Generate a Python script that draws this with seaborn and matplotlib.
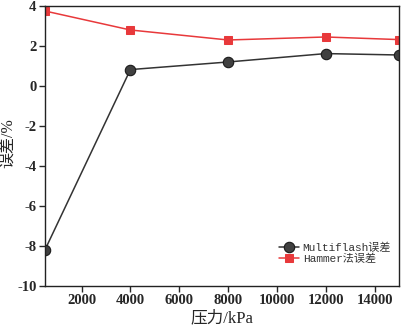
import matplotlib
matplotlib.use("Agg")
import matplotlib.pyplot as plt
import numpy as np
import pandas as pd
import seaborn as sns

pressure = [500, 4000, 8000, 12000, 15000]
multiflash_err = [-8.2, 0.82, 1.2, 1.62, 1.55]
hammer_err = [3.75, 2.8, 2.3, 2.45, 2.32]
x_ticks = [2000, 4000, 6000, 8000, 10000, 12000, 14000]
y_ticks = [-10, -8, -6, -4, -2, 0, 2, 4]

sns.set_style("ticks")
plt.rcParams["font.family"] = ["Liberation Serif", "Noto Sans CJK SC"]
plt.rcParams["axes.unicode_minus"] = False

df = pd.DataFrame({"pressure": pressure, "Multiflash误差": multiflash_err, "Hammer法误差": hammer_err})

fig = plt.figure(figsize=(4.01, 3.27), dpi=100)
ax = fig.add_axes([0.112, 0.1254, 0.883, 0.8563])

sns.lineplot(data=df, x="pressure", y="Multiflash误差", ax=ax, color="#333333", lw=1.1,
             marker="o", markersize=7.5, markerfacecolor="#404040", markeredgecolor="#1a1a1a",
             markeredgewidth=0.8, label="Multiflash误差")
sns.lineplot(data=df, x="pressure", y="Hammer法误差", ax=ax, color="#e8393b", lw=1.1,
             marker="s", markersize=5.5, markerfacecolor="#e8393b", markeredgecolor="#e8393b",
             label="Hammer法误差")

ax.set_xlim(500, 15000)
ax.set_ylim(-10, 4)
ax.set_xticks(x_ticks)
ax.set_yticks(y_ticks)
for lab in ax.get_xticklabels() + ax.get_yticklabels():
    lab.set_fontweight("bold")
    lab.set_fontsize(10.5)
ax.tick_params(direction="out", length=4, width=1, pad=2)
for s in ax.spines.values():
    s.set_linewidth(1.0)
    s.set_color("#222222")

ax.set_xlabel("压力/kPa", fontsize=12, labelpad=2)
ax.set_ylabel("误差/%", fontsize=11.5)
ax.yaxis.set_label_coords(-0.082, 0.51)

leg = ax.legend(loc="lower right", bbox_to_anchor=(1.0, 0.05), frameon=False, handlelength=1.8,
                borderpad=0.2, labelspacing=0.05, handletextpad=0.3,
                prop={"family": ["Liberation Mono", "Noto Sans CJK SC"], "size": 8})
for t in leg.get_texts():
    t.set_color("#333333")

fig.savefig("out.png", dpi=100)
